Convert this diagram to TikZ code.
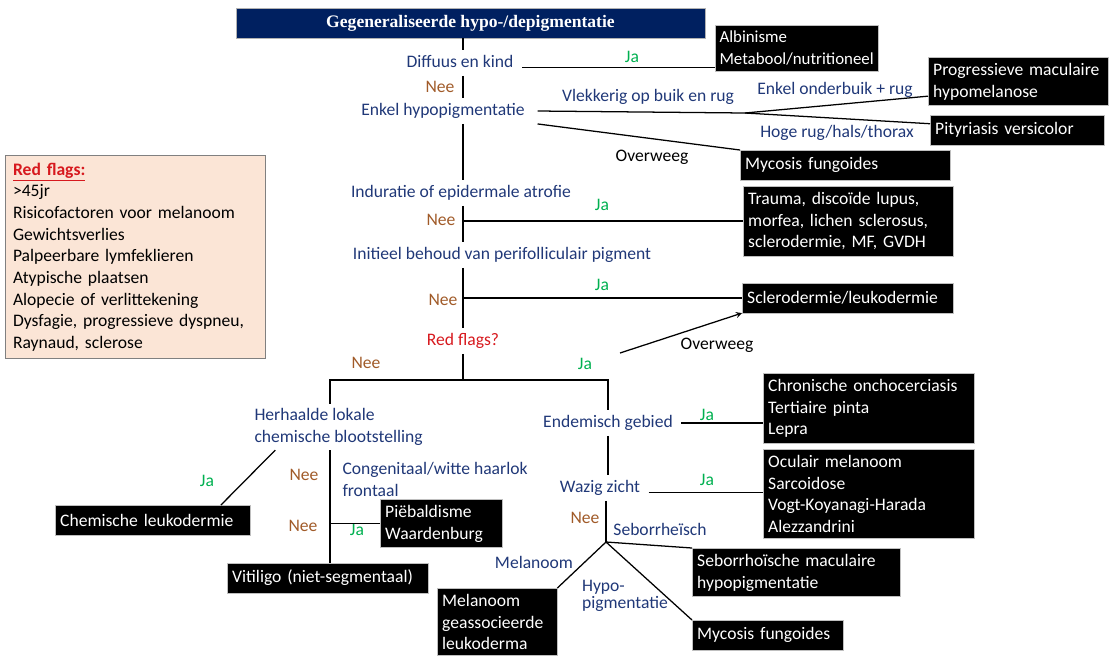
\documentclass[tikz,border=0pt]{standalone}
\usepackage{fontspec}
\setmainfont{Carlito}
\newfontfamily\titlefont{Liberation Serif}
\usepackage{tikz}
\usetikzlibrary{shapes.geometric, arrows}
\definecolor{titelblauw}{RGB}{0,32,96}
\definecolor{vraagblauw}{RGB}{32,56,120}
\definecolor{jagroen}{RGB}{0,176,80}
\definecolor{neebruin}{RGB}{160,90,40}
\definecolor{rood}{RGB}{215,25,30}
\definecolor{zalm}{RGB}{251,229,214}
\tikzstyle{titel} = [rectangle, fill=titelblauw, draw=gray!60, text=white, minimum width=333.6pt, minimum height=21.3pt, font=\titlefont\bfseries\fontsize{12.5}{15}\selectfont]
\tikzstyle{uitkomst} = [rectangle, anchor=north west, fill=black, draw=gray!50, text=white, align=left, inner xsep=3.5pt, inner ysep=4pt, minimum height=21pt]
\tikzstyle{lijst} = [rectangle, anchor=north west, fill=zalm, draw=gray, align=left, text width=174pt, inner xsep=5.5pt, inner ysep=5.3pt, font=\fontsize{12.5}{15.4}\selectfont]
\tikzstyle{vraag} = [text=vraagblauw, inner xsep=6pt, inner ysep=3pt, text height=9pt, text depth=3pt]
\tikzstyle{vraagtwee} = [text=vraagblauw, align=left, anchor=west, inner sep=3pt]
\tikzstyle{tak} = [text=vraagblauw]
\tikzstyle{ja} = [text=jagroen]
\tikzstyle{nee} = [text=neebruin]
\tikzstyle{lijn} = [line width=0.9pt]
\tikzstyle{pijl} = [line width=0.9pt,->,>=stealth]

\begin{document}
\begin{tikzpicture}[x=0.025cm, y=-0.025cm, font=\fontsize{12.5}{15.6}\selectfont]
    \useasboundingbox (0,0) rectangle (1112,660);
    \coordinate (Stam) at (463,0);
    \coordinate (Links) at (330,0);
    % vragen
    \node (Title) [titel] at (470.5,23) {Gegeneraliseerde hypo-/depigmentatie};
    \node (Diffuus) [vraag] at (460,63) {Diffuus en kind};
    \node (Enkel) [vraag, inner xsep=9pt] at (443,111) {Enkel hypopigmentatie};
    \node (Induratie) [vraag] at (461,193) {Induratie of epidermale atrofie};
    \node (Initieel) [vraag] at (502,255) {Initieel behoud van perifolliculair pigment};
    \node (RedFlags) [vraag, text=rood] at (463,341) {Red flags?};
    \node (Herhaalde) [vraagtwee] at (250,427) {Herhaalde lokale\\chemische blootstelling};
    \node (Congenitaal) [vraagtwee] at (338,479) {Congenitaal/witte haarlok\\frontaal};
    \node (Endemisch) [vraag] at (608,423) {Endemisch gebied};
    \node (Wazig) [vraag] at (600,488) {Wazig zicht};
    % uitkomsten
    \node (Albinisme) [uitkomst, inner xsep=3pt, font=\fontsize{12}{15.6}\selectfont] at (715,25) {Albinisme\\Metabool/nutritioneel};
    \node (Progressief) [uitkomst, text width=120.9pt] at (928,57) {Progressieve maculaire\\hypomelanose};
    \node (Pityriasis) [uitkomst, text width=116.7pt] at (930,115) {Pityriasis versicolor};
    \node (Mycosis1) [uitkomst, text width=142.3pt] at (740,150) {Mycosis fungoides};
    \node (Trauma) [uitkomst, text width=142.3pt] at (743,186) {Trauma, discoïde lupus,\\morfea, lichen sclerosus,\\sclerodermie, MF, GVDH};
    \node (Sclero) [uitkomst, text width=143pt] at (742,283) {Sclerodermie/leukodermie};
    \node (Chronisch) [uitkomst, text width=143pt] at (763,373) {Chronische onchocerciasis\\Tertiaire pinta\\Lepra};
    \node (Oculair) [uitkomst, text width=143pt] at (763,449) {Oculair melanoom\\Sarcoidose\\Vogt-Koyanagi-Harada\\Alezzandrini};
    \node (Seborroisch) [uitkomst, text width=140.8pt] at (692,548) {Seborrhoïsche maculaire\\hypopigmentatie};
    \node (Mycosis2) [uitkomst, text width=100.3pt] at (692,620) {Mycosis fungoides};
    \node (Melanoom) [uitkomst, text width=78.2pt] at (437,588) {Melanoom\\geassocieerde\\leukoderma};
    \node (Chemisch) [uitkomst, text width=131.6pt] at (55,505) {Chemische leukodermie};
    \node (Piebald) [uitkomst, text width=79.7pt] at (380,499) {Piëbaldisme\\Waardenburg};
    \node (Vitiligo) [uitkomst, text width=135.9pt] at (227,563) {Vitiligo (niet-segmentaal)};
    \node (RedFlagLijst) [lijst] at (5,155) {{\bfseries\color{rood}\underline{Red flags:}}\\>45jr\\Risicofactoren voor melanoom\\Gewichtsverlies\\Palpeerbare lymfeklieren\\Atypische plaatsen\\Alopecie of verlittekening\\Dysfagie, progressieve dyspneu,\\Raynaud, sclerose};
    % labels
    \node (Ja1) [ja] at (632,57) {Ja};
    \node (Nee1) [nee] at (440,87) {Nee};
    \node (Vlekkerig) [tak] at (648,97) {Vlekkerig op buik en rug};
    \node (Onderbuik) [tak] at (835,90) {Enkel onderbuik + rug};
    \node (Hoge) [tak] at (837,133) {Hoge rug/hals/thorax};
    \node (Overweeg1) at (652,157) {Overweeg};
    \node (Ja2) [ja] at (602,205) {Ja};
    \node (Nee2) [nee] at (441,220) {Nee};
    \node (Ja3) [ja] at (602,285) {Ja};
    \node (Nee3) [nee] at (443,300) {Nee};
    \node (Overweeg2) at (717,345) {Overweeg};
    \node (Ja4) [ja] at (585,364) {Ja};
    \node (Nee4) [nee] at (366,363) {Nee};
    \node (Ja5) [ja] at (707,415) {Ja};
    \node (Ja6) [ja] at (707,480) {Ja};
    \node (Nee5) [nee] at (585,518) {Nee};
    \node (Seborrheisch) [tak] at (660,529) {Seborrheïsch};
    \node (MelanoomTak) [tak] at (534,562) {Melanoom};
    \node (HypoTak) [tak, align=left, font=\fontsize{12.5}{10.5}\selectfont] at (625,596) {Hypo-\\pigmentatie};
    \node (Ja7) [ja] at (207,481) {Ja};
    \node (Nee6) [nee] at (304,475) {Nee};
    \node (Nee7) [nee] at (303,526) {Nee};
    \node (Ja8) [ja] at (357,530) {Ja};
    % hulppunten
    \coordinate (Split1) at (745,113);
    \coordinate (Split2) at (463,380);
    \coordinate (Split3) at (606,542);
    \coordinate (Tak1) at (Stam |- Trauma.west);
    \coordinate (Tak2) at (Stam |- Sclero.west);
    \coordinate (Tak3) at (Links |- Piebald.west);
    \coordinate (PijlStart) at (620,353);
    % lijnen
    \draw [lijn] (Title.south -| Stam) -- (Diffuus.north -| Stam);
    \draw [lijn] (Diffuus.base east) -- (Diffuus.base east -| Albinisme.west);
    \draw [lijn] (Diffuus.south -| Stam) -- (Enkel.north -| Stam);
    \draw [lijn] (Enkel.east) -- (Split1);
    \draw [lijn] (Split1) -- ([yshift=-10.5pt]Progressief.west);
    \draw [lijn] (Split1) -- ([yshift=4.5pt]Pityriasis.west);
    \draw [lijn] (Enkel.south east) -- (Mycosis1.north west);
    \draw [lijn] (Enkel.south -| Stam) -- (Induratie.north -| Stam);
    \draw [lijn] (Induratie.south -| Stam) -- (Initieel.north -| Stam);
    \draw [lijn] (Tak1) -- (Trauma.west);
    \draw [lijn] (Initieel.south -| Stam) -- (RedFlags.north -| Stam);
    \draw [lijn] (Tak2) -- (Sclero.west);
    \draw [pijl] (PijlStart) -- (Sclero.south west);
    \draw [lijn] (RedFlags.south -| Stam) -- (Split2);
    \draw [lijn] (Herhaalde.north -| Links) -- (Links |- Split2) -- (Split2 -| Endemisch) -- (Endemisch.north);
    \draw [lijn] (Endemisch.east) -- (Endemisch.east -| Chronisch.west);
    \draw [lijn] (Endemisch.south) -- (Endemisch.south |- Wazig.north);
    \draw [lijn] (Wazig.base east) -- (Wazig.base east -| Oculair.west);
    \draw [lijn] (Wazig.south -| Split3) -- (Split3);
    \draw [lijn] (Split3) -- (Seborroisch.north west);
    \draw [lijn] (Split3) -- (Melanoom.north east);
    \draw [lijn] (Split3) -- (Mycosis2.north west);
    \draw [lijn] ([xshift=18pt]Herhaalde.south west) -- ([xshift=-21pt]Chemisch.north east);
    \draw [lijn] (Herhaalde.south -| Links) -- (Vitiligo.north -| Links);
    \draw [lijn] (Tak3) -- (Piebald.west);
\end{tikzpicture}
\end{document}
